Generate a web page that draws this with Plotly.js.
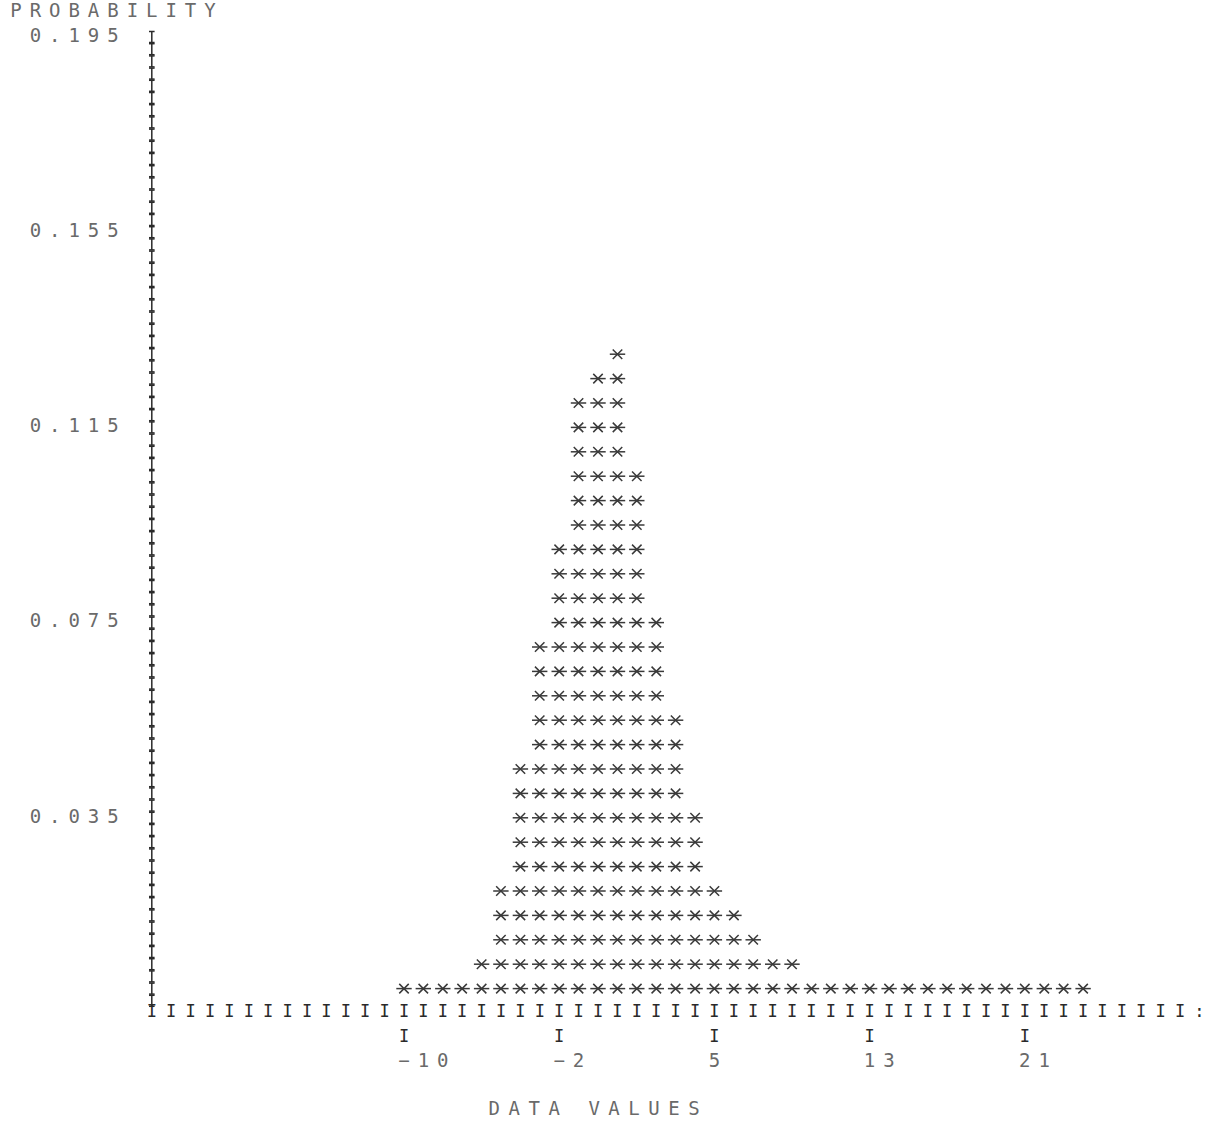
<!DOCTYPE html>
<html>
<head>
<meta charset="utf-8">
<script src="https://cdn.plot.ly/plotly-3.0.1.min.js"></script>
<style>
  html, body { margin: 0; padding: 0; background: #ffffff; }
  #chart { width: 1216px; height: 1122px; }
</style>
</head>
<body>
<div id="chart"></div>
<script>
// ---------------- DATA ----------------
// Bin centres along DATA VALUES (one printer column per bin)
const binCenters = [-10.0, -9.03, -8.05, -7.08, -6.1, -5.13, -4.15, -3.18, -2.2, -1.23,
                    -0.25, 0.73, 1.7, 2.68, 3.65, 4.63, 5.6, 6.58, 7.55, 8.53,
                    9.5, 10.48, 11.45, 12.43, 13.4, 14.38, 15.35, 16.33, 17.3, 18.28,
                    19.25, 20.23, 21.2, 22.18, 23.15, 24.13];
// Probability of each bin
const probabilities = [0.002, 0.002, 0.002, 0.002, 0.007, 0.022, 0.047, 0.072, 0.092, 0.122,
                       0.127, 0.132, 0.107, 0.077, 0.057, 0.037, 0.022, 0.017, 0.012, 0.007,
                       0.007, 0.002, 0.002, 0.002, 0.002, 0.002, 0.002, 0.002, 0.002, 0.002,
                       0.002, 0.002, 0.002, 0.002, 0.002, 0.002];
// Axis ticks
const xTickValues = [-10, -2.2, 5.6, 13.4, 21.2];
const xTickLabels = ['-10', '-2', '5', '13', '21'];
const yTickValues = [0.195, 0.155, 0.115, 0.075, 0.035];
const yTickLabels = ['0.195', '0.155', '0.115', '0.075', '0.035'];
const yTitle = 'PROBABILITY';
const xTitle = 'DATA VALUES';

// ---------------- PRINTER GRID ----------------
const X0 = -10, XSTEP = 0.975;      // data units per printer column
const YSTEP = 0.005;                // probability per printer line
const COLW = 19.4, ROWH = 24.4;     // pixel size of a printer cell
const COL0_PX = 404, ROW0_PX = 1013;// pixel of column 0 / axis line
const W = 1216, H = 1122;

const colToX = c => X0 + c * XSTEP;
const rowToY = r => (r - 1) * YSTEP;   // row 0 is the axis line
const xToCol = x => Math.round((x - X0) / XSTEP);
const yToRow = y => Math.round(y / YSTEP) + 1;
const pxToY = px => px / ROWH * YSTEP; // vertical pixel offset in data units

const xRange = [colToX(-COL0_PX / COLW), colToX((W - COL0_PX) / COLW)];
const yRange = [rowToY((ROW0_PX - H) / ROWH), rowToY(ROW0_PX / ROWH)];

// ---------------- STARS ----------------
const sx = [], sy = [];
binCenters.forEach((x, i) => {
  const p = probabilities[i];
  for (let r = 1; rowToY(r) <= p + 1e-9; r++) { sx.push(x); sy.push(rowToY(r)); }
});

// ---------------- TEXT CHARACTERS ----------------
const chars = { x: [], y: [], t: [] };
const darkI = { x: [], y: [], t: [] };
function putString(str, col, row, step, target) {
  for (let i = 0; i < str.length; i++) {
    const ch = str[i];
    if (ch === ' ') continue;
    target.x.push(colToX(col + i * (step || 1)));
    target.y.push(rowToY(row));
    target.t.push(ch === '-' ? '\u2212' : ch);
  }
}
// vertical axis: column -13, printed at half-line spacing (drawn as I-shaped marks)
const AXIS_COL = -13;
const topRow = yToRow(yTickValues[0]);
const vStem = { x: [], y: [] }, vSerif = { x: [], y: [] };
for (let r = 0.5; r <= topRow; r += 0.5) {
  const xc = colToX(AXIS_COL), yc = rowToY(r);
  vStem.x.push(xc); vStem.y.push(yc);
  vSerif.x.push(xc, xc); vSerif.y.push(yc + pxToY(5.5), yc - pxToY(5.5));
}
// horizontal axis line of I's
for (let c = AXIS_COL; c <= 40; c++) {
  darkI.x.push(colToX(c)); darkI.y.push(rowToY(0)); darkI.t.push('I');
}
darkI.x.push(colToX(41)); darkI.y.push(rowToY(0)); darkI.t.push(':');
// x ticks and labels
xTickValues.forEach((v, i) => {
  const c = xToCol(v);
  darkI.x.push(colToX(c)); darkI.y.push(rowToY(-1)); darkI.t.push('I');
  putString(xTickLabels[i], c, -2, 1, chars);
});
// y labels (right aligned, ending two columns left of the axis)
yTickValues.forEach((v, i) => {
  const s = yTickLabels[i];
  putString(s, AXIS_COL - 2 - (s.length - 1), yToRow(v), 1, chars);
});
// titles
putString(yTitle, -20, topRow + 1, 1, chars);
putString(xTitle, 4.65, -4, 1.03, chars);

const FONT = 'DejaVu Sans Mono, Liberation Mono, monospace';
const INK = '#3a3a3a';

const traces = [
  { type: 'scatter', mode: 'markers', x: sx, y: sy, hoverinfo: 'skip', cliponaxis: false,
    marker: { symbol: 'line-ew-open', size: 11, color: INK, line: { width: 1.5, color: INK } } },
  { type: 'scatter', mode: 'markers', x: sx, y: sy, hoverinfo: 'skip', cliponaxis: false,
    marker: { symbol: 'x-thin-open', size: 9.5, color: INK, line: { width: 1.5, color: INK } } },
  { type: 'scatter', mode: 'markers', x: vStem.x, y: vStem.y, hoverinfo: 'skip', cliponaxis: false,
    marker: { symbol: 'line-ns-open', size: 8, color: '#2a2a2a', line: { width: 1.5, color: '#2a2a2a' } } },
  { type: 'scatter', mode: 'markers', x: vSerif.x, y: vSerif.y, hoverinfo: 'skip', cliponaxis: false,
    marker: { symbol: 'line-ew-open', size: 4, color: '#2a2a2a', line: { width: 1.5, color: '#2a2a2a' } } },
  { type: 'scatter', mode: 'text', x: darkI.x, y: darkI.y, text: darkI.t, hoverinfo: 'skip', cliponaxis: false,
    textposition: 'middle center', textfont: { family: FONT, size: 17, color: '#2a2a2a' } },
  { type: 'scatter', mode: 'text', x: chars.x, y: chars.y, text: chars.t, hoverinfo: 'skip', cliponaxis: false,
    textposition: 'middle center', textfont: { family: FONT, size: 19, color: '#6a6a6a' } }
];

const layout = {
  width: W, height: H,
  margin: { l: 0, r: 0, t: 0, b: 0, pad: 0 },
  paper_bgcolor: '#ffffff', plot_bgcolor: '#ffffff',
  showlegend: false,
  xaxis: { range: xRange, visible: false, showgrid: false, zeroline: false, fixedrange: true },
  yaxis: { range: yRange, visible: false, showgrid: false, zeroline: false, fixedrange: true }
};

Plotly.newPlot('chart', traces, layout, { staticPlot: true, displayModeBar: false });
</script>
</body>
</html>
